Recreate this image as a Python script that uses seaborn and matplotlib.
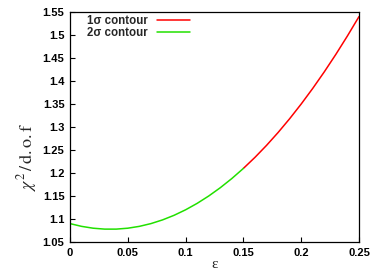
import matplotlib
matplotlib.use("Agg")
import matplotlib.pyplot as plt
import pandas as pd
import seaborn as sns

# chi^2 / d.o.f
eps = [0.00, 0.01, 0.02, 0.03, 0.04, 0.05, 0.06, 0.07, 0.08, 0.09, 0.10, 0.11, 0.12,
       0.13, 0.14, 0.15, 0.16, 0.17, 0.18, 0.19, 0.20, 0.21, 0.22, 0.23, 0.24, 0.25]
chi2 = [1.090, 1.084, 1.080, 1.078, 1.078, 1.080, 1.084, 1.090, 1.098, 1.108, 1.120,
        1.134, 1.150, 1.168, 1.188, 1.210, 1.234, 1.260, 1.288, 1.318, 1.350, 1.384,
        1.420, 1.458, 1.498, 1.540]
split = 0.15
labels = ["1\u03c3 contour", "2\u03c3 contour"]
colors = ["#ff0000", "#22e000"]
xticks = [0, 0.05, 0.1, 0.15, 0.2, 0.25]
yticks = [1.05, 1.1, 1.15, 1.2, 1.25, 1.3, 1.35, 1.4, 1.45, 1.5, 1.55]

sns.set_theme(style="white")
plt.rcParams["font.family"] = ["Liberation Sans", "DejaVu Sans"]
plt.rcParams["mathtext.fontset"] = "stix"

df = pd.DataFrame({"eps": eps, "chi2": chi2})
one_sigma = df[df["eps"] >= split]
two_sigma = df[df["eps"] <= split]

fig = plt.figure(figsize=(3.82, 2.73), dpi=100)
ax = fig.add_axes([70 / 382, 31 / 273, 289 / 382, 230 / 273])

sns.lineplot(data=one_sigma, x="eps", y="chi2", color=colors[0], lw=1.1, ax=ax, label=labels[0])
sns.lineplot(data=two_sigma, x="eps", y="chi2", color=colors[1], lw=1.1, ax=ax, label=labels[1])

ax.set_xlim(0, 0.25)
ax.set_ylim(1.05, 1.55)
ax.set_xticks(xticks)
ax.set_xticklabels(["0", "0.05", "0.1", "0.15", "0.2", "0.25"])
ax.set_yticks(yticks)
ax.set_yticklabels(["1.05", "1.1", "1.15", "1.2", "1.25", "1.3", "1.35", "1.4", "1.45", "1.5", "1.55"])
ax.tick_params(direction="in", length=3.5, width=0.8, colors="black", labelsize=8, pad=4,
               top=False, right=False, left=True, bottom=True)
for lab in ax.get_xticklabels() + ax.get_yticklabels():
    lab.set_fontweight("bold")
for sp in ax.spines.values():
    sp.set_color("black")
    sp.set_linewidth(0.9)

ax.set_xlabel("")
ax.set_ylabel("")
fig.text(215 / 382, 1 - 264 / 273, "\u03b5", family="Liberation Serif", fontsize=11,
         ha="center", va="center")
fig.text(27 / 382, 1 - 157 / 273, r"$\chi^2\,/\,\mathrm{d.o.f}$", rotation=90,
         ha="center", va="center", fontsize=13)

leg = ax.legend(loc="upper left", bbox_to_anchor=(0.035, 1.015), frameon=False, markerfirst=False,
                fontsize=8.3, handlelength=2.9, handletextpad=0.8, labelspacing=0.0, borderaxespad=0.2)
for t in leg.get_texts():
    t.set_fontweight("bold")

fig.savefig("out.png", dpi=100)
